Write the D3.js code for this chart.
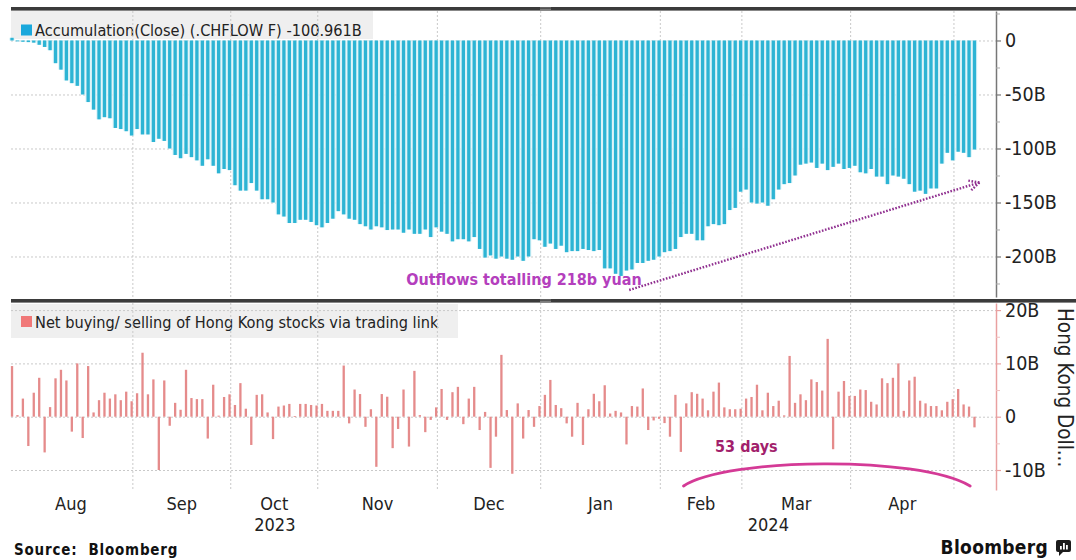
<!DOCTYPE html>
<html>
<head>
<meta charset="utf-8">
<script src="https://cdn.jsdelivr.net/npm/d3@7"></script>
<style>
  body { margin: 0; background: #fff; }
  svg { display: block; }
  text { font-family: "DejaVu Sans Condensed", "DejaVu Sans", sans-serif; }
</style>
</head>
<body>
<svg id="chart" width="1076" height="560"></svg>
<script>
// ---- Data -------------------------------------------------------------
// Trading-day bars, Aug 2023 through early May 2024
const monthNames = ["Aug", "Sep", "Oct", "Nov", "Dec", "Jan", "Feb", "Mar", "Apr", "May"];
const monthBarCounts = [23, 18, 16, 22, 19, 22, 15, 20, 19, 4];
const yearLabels = ["2023", "2024"];
const yearMonthCounts = [5, 5];

// Accumulated net flow, billions of yuan
const cumulativeFlow = [
  2.5, -0.8, -1.2, -1.5, -2, -4, -6, -9, -21, -27,
  -37, -39.5, -42, -50, -57, -64, -73, -71, -72, -81,
  -82, -84, -88, -82, -87, -87, -94, -91, -93, -100,
  -106, -109, -105, -108, -111, -116, -110, -116, -123, -119,
  -120, -134, -139, -139, -132, -139, -147, -147, -150, -161,
  -163, -169, -169, -166, -166, -168, -171, -173, -169, -165,
  -158, -161, -165, -166,
  -170, -172, -175, -172, -173, -175.5, -175, -175, -178, -175,
  -179, -179, -175, -182, -173, -177, -179, -186, -184, -184,
  -186, -182, -193, -201, -199, -202, -200, -202, -203, -200,
  -204, -200, -184, -185, -191, -188, -193, -190, -196, -195,
  -195, -193, -194, -195, -194, -211, -211, -216, -218, -213,
  -212, -206, -206, -204, -203, -200, -196, -195, -193, -182,
  -179, -179, -185, -185, -172, -170, -171, -170, -157, -155,
  -140, -138, -150, -151, -150, -153, -147, -138, -133, -132,
  -125, -115, -114, -113, -118, -114, -120, -117, -114, -119,
  -118, -116, -122, -123, -119, -126, -126, -133, -125, -126,
  -128, -133, -140, -139, -142, -137, -137, -114, -104, -111,
  -103, -104, -108, -100.961
];

// Daily net buying / selling of Hong Kong stocks, billions of HKD
const netBuying = [
  9.5, 0.3, 3.4, -5.5, 4.5, 7.3, -6.7, 1.8, 7.2, 8.8,
  6.8, -2.8, 10, -4, 9.5, 0.8, 3.1, 4.5, 3.4, 4.2,
  3.1, 4.7, 2.9, 4.4, 12, 4.2, 7, -10, 6.8, -1.7,
  2.6, 1.3, 8.8, 3.5, 3.3, 3.3, -4.1, 6, 0.2, 3.7,
  4.2, 2.2, 6.3, 1.5, -5.3, 4.1, 4.2, 0.8, -4.2, 1.9,
  2.1, 2.4, 0.1, 2.4, 2.4, 2.2, 2.1, 2.4, 1.1, 1.1,
  1.1, 9.6, -1.25, 5.1, 4.25, -1.9, 1.4, -9.4, 4.25, 3.75,
  -5.9, -2.3, 5.1, -5.6, 8.6, 0.3, -2.9, -0.6, 1.75, 5.2,
  -0.6, 4.6, 5.6, -1.4, 3.4, 5.6, -2.5, 0.9, -9.6, -3.75,
  11.6, 1.25, -10.7, 2.5, -4.1, 1.25, -1.9, 2, 4.1, 6.9,
  2.2, 1.6, -1.25, -3.75, 2.6, -5.3, 1.4, 4.3, 2.9, 5.9,
  0.6, 1.1, 0.8, -5.2, 2, 1.9, 5.3, -2.5, -0.7, -0.4,
  -1.2, -3.75, 4.1, -6.6, 2.5, 4.6, 4.3, 3.4, 1.2, 4.7,
  6.4, 1.75, 1.4, 1.4, 1.5, 3.4, 3.7, 6, 1.2, 4.5,
  2, 3, 0.25, 11.4, 2.6, 4.2, 3.1, 7, 6.5, 4.9,
  14.6, -6.1, 4.7, 6.7, 3.9, 3.9, 5.1, 5, 2.8, 2.3,
  7.2, 6.3, 7.3, 10, 1.1, 6.8, 7.5, 3, 2.5, 2,
  2, 1.2, 2.8, 3.3, 5.2, 2.3, 1.9, -2
];

const topMajorTicks = [0, -50, -100, -150, -200];
const topMinorTicks = [25, -25, -75, -125, -175, -225];
const bottomMajorTicks = [20, 10, 0, -10];
const bottomMinorTicks = [15, 5, -5];

const topLegend = "Accumulation(Close) (.CHFLOW F) -100.961B";
const bottomLegend = "Net buying/ selling of Hong Kong stocks via trading link";
const rightTitle = "Hong Kong Doll...";
const outflowNote = "Outflows totalling 218b yuan";
const streakNote = "53 days";

// ---- Layout ---------------------------------------------------------------
const svg = d3.select("#chart");
const plotLeft = 11, axisX = 996, W = 1076;
const topPanel = { y0: 11, y1: 297 };
const bottomPanel = { y0: 303, y1: 490 };

const N = cumulativeFlow.length;
const x = d3.scaleBand().domain(d3.range(N)).range([9.3, 977.2]);
const step = x.step();
const xi = d3.scaleLinear().domain([0, N]).range(x.range()); // fractional bar index

const yTop = d3.scaleLinear().domain([27.3, -237.5]).range([topPanel.y0, topPanel.y1]);
const yBot = d3.scaleLinear().domain([21.33, -13.75]).range([bottomPanel.y0, bottomPanel.y1]);

const monthStarts = Array.from(d3.cumsum([0, ...monthBarCounts.slice(0, -1)]));
const boundaryX = k => k === 0 ? 9 : (k >= monthNames.length ? axisX : x(monthStarts[k]) - 1.5);

// ---- Legend boxes ---------------------------------------------------------
function legend(y, h, w, swatchColor, label, swatchY, baseY) {
  svg.append("rect").attr("x", plotLeft).attr("y", y).attr("width", w).attr("height", h)
    .attr("fill", "#efefef");
  svg.append("rect").attr("x", 21).attr("y", swatchY).attr("width", 11).attr("height", 11)
    .attr("fill", swatchColor);
  svg.append("text").attr("x", 35).attr("y", baseY).attr("font-size", 16.2)
    .attr("fill", "#222").text(label);
}
legend(topPanel.y0, 28, 362, "#1aa8dc", topLegend, 24.5, 36);
legend(bottomPanel.y0 + 1, 34, 447, "#f07878", bottomLegend, 316, 328);

// ---- Grid -----------------------------------------------------------------
const grid = svg.append("g").attr("stroke", "#c9c9c9").attr("stroke-width", 1)
  .attr("stroke-dasharray", "2,2").attr("fill", "none");
grid.selectAll("line.v").data(d3.range(1, monthNames.length)).join("line")
  .attr("x1", k => boundaryX(k)).attr("x2", k => boundaryX(k))
  .attr("y1", topPanel.y0).attr("y2", bottomPanel.y1);
grid.selectAll("line.ht").data(topMajorTicks).join("line")
  .attr("x1", plotLeft).attr("x2", axisX)
  .attr("y1", d => yTop(d) + 0.5).attr("y2", d => yTop(d) + 0.5);
grid.selectAll("line.hb").data(bottomMajorTicks).join("line")
  .attr("x1", plotLeft).attr("x2", axisX)
  .attr("y1", d => yBot(d) + 0.5).attr("y2", d => yBot(d) + 0.5);

// ---- Top panel bars -------------------------------------------------------
const gTop = svg.append("g");
gTop.selectAll("rect.halo").data(cumulativeFlow).join("rect").attr("class", "halo")
  .attr("x", (d, i) => x(i)).attr("width", step)
  .attr("y", d => yTop(Math.max(0, d)))
  .attr("height", d => Math.abs(yTop(d) - yTop(0)))
  .attr("fill", "#dcf3f8");
const topBarW = 3.3;
gTop.selectAll("rect.bar").data(cumulativeFlow).join("rect").attr("class", "bar")
  .attr("x", (d, i) => x(i) + (step - topBarW) / 2).attr("width", topBarW)
  .attr("y", d => yTop(Math.max(0, d)))
  .attr("height", d => Math.abs(yTop(d) - yTop(0)))
  .attr("fill", "#2db4d4");

// ---- Bottom panel bars ----------------------------------------------------
const botBarW = 2.3;
svg.append("g").selectAll("rect").data(netBuying).join("rect")
  .attr("x", (d, i) => x(i) + (step - botBarW) / 2).attr("width", botBarW)
  .attr("y", d => yBot(Math.max(0, d)))
  .attr("height", d => Math.max(0.8, Math.abs(yBot(d) - yBot(0))))
  .attr("fill", "#e58b8b");

// ---- Axes -----------------------------------------------------------------
const fmt = v => v === 0 ? "0" : String(v) + "B";
function styleAxis(g, color) {
  g.select(".domain").attr("stroke", color).attr("stroke-width", 1.5);
  g.selectAll(".tick line").attr("stroke", color).attr("stroke-width", 1.2);
  g.selectAll(".tick text").attr("fill", "#222").attr("font-size", 19.5)
    .attr("font-family", "'DejaVu Sans Condensed','DejaVu Sans',sans-serif");
}
const topAxis = svg.append("g").attr("transform", `translate(${axisX},0)`)
  .call(d3.axisRight(yTop).tickValues(topMajorTicks).tickFormat(fmt).tickSize(5).tickSizeOuter(0).tickPadding(4));
styleAxis(topAxis, "#777");
const topMinor = svg.append("g").attr("transform", `translate(${axisX},0)`)
  .call(d3.axisRight(yTop).tickValues(topMinorTicks).tickFormat("").tickSize(4).tickSizeOuter(0));
topMinor.select(".domain").remove();
topMinor.selectAll(".tick line").attr("stroke", "#aaa");

const botAxis = svg.append("g").attr("transform", `translate(${axisX},0)`)
  .call(d3.axisRight(yBot).tickValues(bottomMajorTicks).tickFormat(fmt).tickSize(5).tickSizeOuter(0).tickPadding(4));
styleAxis(botAxis, "#e9a0a0");
const botMinor = svg.append("g").attr("transform", `translate(${axisX},0)`)
  .call(d3.axisRight(yBot).tickValues(bottomMinorTicks).tickFormat("").tickSize(4).tickSizeOuter(0));
botMinor.select(".domain").remove();
botMinor.selectAll(".tick line").attr("stroke", "#efc0c0");

svg.append("text")
  .attr("transform", `translate(1058,${bottomPanel.y0 + 5}) rotate(90)`)
  .attr("font-family", "'DejaVu Sans',sans-serif").attr("font-size", 20.5).attr("fill", "#222")
  .text(rightTitle);

// ---- Panel separators -----------------------------------------------------
[7, 299].forEach(y => {
  svg.append("rect").attr("x", plotLeft).attr("y", y).attr("width", W - plotLeft).attr("height", 3.6)
    .attr("fill", "#3b3b3b");
  [0.9, 2.5].forEach(o => svg.append("line").attr("x1", 540).attr("x2", 551)
    .attr("y1", y + o).attr("y2", y + o).attr("stroke", "#9a9a9a").attr("stroke-width", 0.7));
});

// ---- X axis labels --------------------------------------------------------
const months = monthNames.map((m, k) => ({ m, k, count: monthBarCounts[k] }))
  .filter(d => d.count >= 10);
svg.append("g").selectAll("text").data(months).join("text")
  .attr("x", d => (boundaryX(d.k) + boundaryX(d.k + 1)) / 2).attr("y", 510)
  .attr("text-anchor", "middle").attr("font-size", 18).attr("fill", "#222")
  .text(d => d.m);
const yearStarts = Array.from(d3.cumsum([0, ...yearMonthCounts.slice(0, -1)]));
svg.append("g").selectAll("text").data(yearLabels).join("text")
  .attr("x", (d, j) => (boundaryX(yearStarts[j]) + boundaryX(yearStarts[j] + yearMonthCounts[j])) / 2)
  .attr("y", 531).attr("text-anchor", "middle").attr("font-size", 18).attr("fill", "#222")
  .text(d => d);

// ---- Annotations ----------------------------------------------------------
svg.append("text").attr("x", xi(73)).attr("y", yTop(-226.4))
  .attr("font-weight", "bold").attr("font-size", 16).attr("fill", "#b43fbd")
  .text(outflowNote);

const a0 = [xi(114), yTop(-231)], a1 = [xi(178.4), yTop(-131.5)];
const dx = a1[0] - a0[0], dy = a1[1] - a0[1], len = Math.hypot(dx, dy);
const ux = dx / len, uy = dy / len;
const arrow = svg.append("g").attr("stroke", "#8f2e8f").attr("stroke-width", 2.4)
  .attr("stroke-dasharray", "1.6,1.6").attr("fill", "none");
arrow.append("line").attr("x1", a0[0]).attr("y1", a0[1]).attr("x2", a1[0]).attr("y2", a1[1]);
[1, -1].forEach(s => arrow.append("line")
  .attr("x1", a1[0]).attr("y1", a1[1])
  .attr("x2", a1[0] - 10 * ux + s * 5 * -uy).attr("y2", a1[1] - 10 * uy + s * 5 * ux));

svg.append("text").attr("x", xi(129.8)).attr("y", yBot(-6.6))
  .attr("font-weight", "bold").attr("font-size", 16).attr("fill", "#a21f6c")
  .text(streakNote);
const arcPts = [[124, -13], [132, -7.7], [167, -7.2], [176.7, -13]]
  .map(([i, v]) => [xi(i), yBot(v)]);
svg.append("path")
  .attr("d", `M${arcPts[0]} C${arcPts[1]} ${arcPts[2]} ${arcPts[3]}`)
  .attr("fill", "none").attr("stroke", "#d43a96").attr("stroke-width", 2.8)
  .attr("stroke-linecap", "round");

// ---- Footer ---------------------------------------------------------------
svg.append("text").attr("x", 14).attr("y", 555)
  .attr("font-family", "'DejaVu Sans',sans-serif").attr("font-weight", "bold")
  .attr("font-size", 15).attr("letter-spacing", 0.8).attr("fill", "#111")
  .attr("xml:space", "preserve").text("Source:  Bloomberg");
svg.append("text").attr("x", 1048).attr("y", 554).attr("text-anchor", "end")
  .attr("font-family", "'Liberation Sans',Arial,sans-serif").attr("font-weight", "bold")
  .attr("font-size", 19).attr("letter-spacing", 0.3).attr("fill", "#111").text("Bloomberg");
const logo = svg.append("g").attr("transform", "translate(1056,540)");
logo.append("rect").attr("width", 15).attr("height", 12).attr("rx", 2).attr("fill", "#1c1c1c");
logo.append("path").attr("d", "M3,11 L3,16 L8,11 Z").attr("fill", "#1c1c1c");
[[4, 6], [7, 3], [10, 5]].forEach(([bx, by]) =>
  logo.append("rect").attr("x", bx).attr("y", by).attr("width", 1.8).attr("height", 9.5 - by)
    .attr("fill", "#fff"));
</script>
</body>
</html>
